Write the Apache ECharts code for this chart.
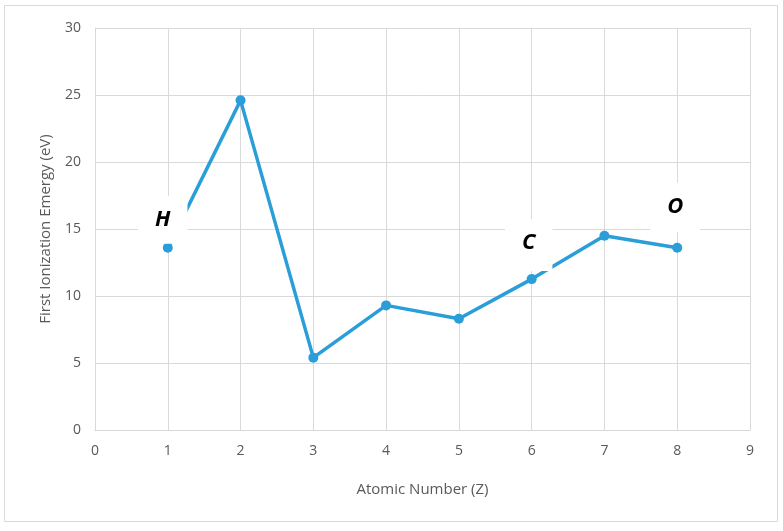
<!DOCTYPE html>
<html>
<head>
<meta charset="utf-8">
<script src="https://cdn.jsdelivr.net/npm/echarts@6/dist/echarts.min.js"></script>
<style>
  html, body { margin: 0; padding: 0; background: #fff; }
  #chart { width: 783px; height: 531px; }
</style>
</head>
<body>
<div id="chart"></div>
<script>
// atomic number vs first ionization energy
const atomicNumbers = [1, 2, 3, 4, 5, 6, 7, 8];
const energies = [13.6, 24.6, 5.4, 9.3, 8.3, 11.26, 14.5, 13.6];
const pointLabels = ["H", "", "", "", "", "C", "", "O"];
const labelDistance = [-1, 0, 0, 0, 0, 3, 0, 11];
const labelShiftX = [-5, 0, 0, 0, 0, -3, 0, -2];
const labelPadBottom = [13, 0, 0, 0, 0, 17, 0, 14];

const font = "'Open Sans', 'Liberation Sans', sans-serif";
const lineColor = "#2a9ed9";

let seriesData = [];
for (let i = 0; i < atomicNumbers.length; i++) {
  let item = { value: [atomicNumbers[i], energies[i]] };
  if (pointLabels[i]) {
    item.label = {
      show: true,
      formatter: pointLabels[i],
      position: "top",
      distance: labelDistance[i],
      offset: [labelShiftX[i], 0],
      backgroundColor: "#fff",
      padding: [13, 17, labelPadBottom[i], 17],
      color: "#000",
      fontSize: 22,
      fontWeight: "bold",
      fontStyle: "italic",
      fontFamily: font,
    };
  }
  seriesData.push(item);
}

var myChart = echarts.init(document.getElementById("chart"));
myChart.setOption({
  animation: false,
  graphic: [
    {
      type: "rect",
      shape: { x: 4.5, y: 5.5, width: 773, height: 516 },
      style: { fill: "none", stroke: "#d9d9d9", lineWidth: 1 },
      silent: true,
    },
  ],
  grid: { left: 95, right: 33, top: 28, bottom: 101 },
  xAxis: {
    type: "value",
    min: 0,
    max: 9,
    interval: 1,
    name: "Atomic Number (Z)",
    nameLocation: "middle",
    nameGap: 52,
    nameTextStyle: { color: "#595959", fontSize: 15, fontFamily: font },
    axisLine: { show: true, lineStyle: { color: "#d9d9d9" } },
    axisTick: { show: false },
    axisLabel: { color: "#595959", fontSize: 14, margin: 14, fontFamily: font },
    splitLine: { show: true, lineStyle: { color: "#d9d9d9" } },
  },
  yAxis: {
    type: "value",
    min: 0,
    max: 30,
    interval: 5,
    name: "First Ionization Emergy (eV)",
    nameLocation: "middle",
    nameGap: 42,
    nameTextStyle: { color: "#595959", fontSize: 15, fontFamily: font },
    axisLine: { show: true, lineStyle: { color: "#d9d9d9" } },
    axisTick: { show: false },
    axisLabel: { color: "#595959", fontSize: 14, margin: 14, fontFamily: font },
    splitLine: { show: true, lineStyle: { color: "#d9d9d9" } },
  },
  series: [
    {
      type: "line",
      data: seriesData,
      symbol: "circle",
      symbolSize: 10,
      itemStyle: { color: lineColor },
      lineStyle: { color: lineColor, width: 3.5 },
      z: 3,
    },
  ],
});
</script>
</body>
</html>
